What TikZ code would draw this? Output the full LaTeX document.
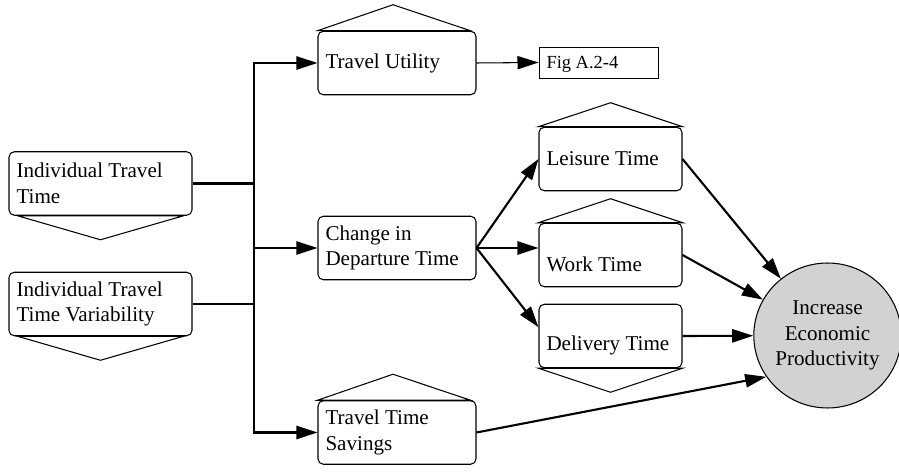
\documentclass[tikz,border=0pt]{standalone}
\usepackage{fontspec}
\setmainfont{Liberation Serif}
\usetikzlibrary{arrows.meta, calc, shapes.geometric}

\tikzset{
  box/.style = {draw, line width=0.6pt, rounded corners=3pt, align=flush left,
    inner xsep=0.15cm, minimum height=1.27cm, font=\fontsize{12}{14.5}\selectfont},
  figbox/.style = {draw, line width=0.5pt, align=flush left, inner xsep=0.15cm,
    minimum height=0.62cm, text depth=0pt, font=\fontsize{10.5}{12.5}\selectfont},
  hat/.style = {line width=0.6pt},
  line/.style = {line width=1.2pt},
  conn/.style = {line width=1.2pt, ->},
}

\begin{document}
\begin{tikzpicture}[x=0.02cm, y=-0.02cm, >={Triangle[length=12pt, width=7.5pt]}]
  \useasboundingbox (0,0) rectangle (899,475);

  % 箱
  \node[box, text width=3.36cm] (it)  at (100.5,183.5) {Individual Travel\\Time};
  \node[box, text width=3.36cm] (itv) at (100.5,304)   {Individual Travel\\Time Variability};
  \node[box, text width=2.86cm] (tu)  at (397,63)      {Travel Utility};
  \node[figbox, text width=2.08cm] (fig) at (598.5,62.5) {Fig A.2-4};
  \node[box, text width=2.86cm] (cdt) at (397,248)     {Change in\\Departure Time};
  \node[box, text width=2.86cm] (tts) at (397,432.5)   {Travel Time\\Savings};
  \node[box, text width=2.56cm] (lt)  at (610.5,159)   {Leisure Time};
  \node[box, text width=2.56cm] (wt)  at (610.5,255)   {\mbox{}\\[5pt]Work Time};
  \node[box, text width=2.56cm] (dt)  at (610.5,336)   {\mbox{}\\[5pt]Delivery Time};

  % 円
  \node[ellipse, draw, line width=0.6pt, fill=gray!35, minimum width=2.66cm,
    minimum height=2.9cm, inner sep=0pt, align=center,
    font=\fontsize{12}{14.5}\selectfont] (iep) at (827.5,335.5)
    {Increase\\Economic\\Productivity};

  % 山形（上）
  \draw[hat] (tu.north west) -- ($(tu.north)+(-4,-26)$) -- ($(tu.north east)+(-6,0)$) -- cycle;
  \draw[hat] (tts.north west) -- ($(tts.north)+(-4,-26)$) -- ($(tts.north east)+(-6,0)$) -- cycle;
  \draw[hat] (lt.north west) -- ($(lt.north)+(0,-24)$) -- (lt.north east) -- cycle;
  \draw[hat] (wt.north west) -- ($(wt.north)+(0,-24)$) -- (wt.north east) -- cycle;

  % 山形（下）
  \draw[hat] ($(it.south west)+(9,0)$) -- ($(it.south)+(0,24)$) -- ($(it.south east)+(-9,0)$) -- cycle;
  \draw[hat] ($(itv.south west)+(9,0)$) -- ($(itv.south)+(0,24)$) -- ($(itv.south east)+(-9,0)$) -- cycle;
  \draw[hat] (dt.south west) -- ($(dt.south)+(0,24)$) -- (dt.south east) -- cycle;

  % 幹線
  \coordinate (bus) at (254,0);
  \draw[line] (it.east) -- (it.east -| bus);
  \draw[line] (itv.east) -- (itv.east -| bus);
  \draw[conn, <->] (tu.west) -- (tu.west -| bus) -- (tts.west -| bus) -- (tts.west);
  \draw[conn] (cdt.west -| bus) -- (cdt.west);
  \draw[line width=0.6pt, ->] (tu.east) -- (fig.west);

  % 分岐
  \draw[conn] (cdt.east) -- (lt.west);
  \draw[conn] (cdt.east) -- (cdt.east -| wt.west);
  \draw[conn] (cdt.east) -- ([yshift=5pt]dt.west);

  % 円への矢印
  \draw[conn] (lt.east) -- (iep);
  \draw[conn] (wt.east) -- (iep);
  \draw[conn] (dt.east) -- (iep);
  \draw[conn] (tts.east) -- (iep.214);
\end{tikzpicture}
\end{document}
